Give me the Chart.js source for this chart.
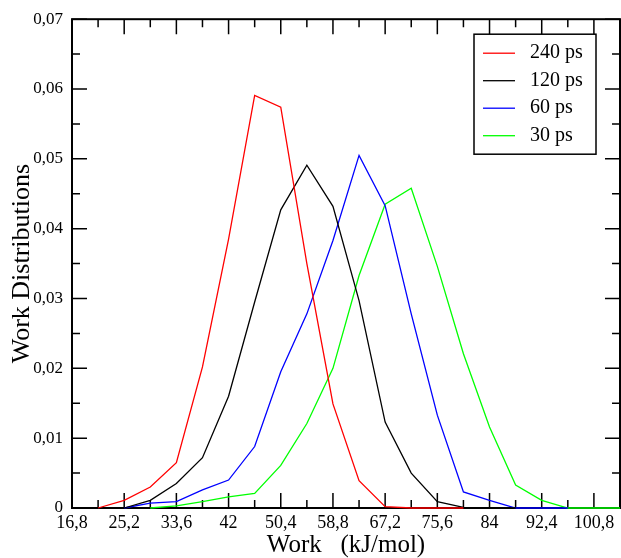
<!DOCTYPE html>
<html>
<head>
<meta charset="utf-8">
<script src="https://cdn.jsdelivr.net/npm/chart.js@4.4.1/dist/chart.umd.min.js"></script>
<style>
  html, body { margin: 0; padding: 0; background: #fff; overflow: hidden; }
  #wrap { width: 621px; height: 558px; }
</style>
</head>
<body>
<div id="wrap"><canvas id="myChart" width="621" height="558"></canvas></div>
<script>
// Work distributions, one series per pulling time
const workX = [16.8, 21, 25.2, 29.4, 33.6, 37.8, 42, 46.2, 50.4, 54.6, 58.8, 63, 67.2, 71.4, 75.6, 79.8, 84, 88.2, 92.4, 96.6, 100.8, 105];

const ps240 = [null, 0, 0.0011, 0.0030, 0.0065, 0.0202, 0.0385, 0.0591, 0.0574, 0.0350, 0.0149, 0.0039, 0.0002, 0, 0, 0, null, null, null, null, null, null];
const ps120 = [null, null, 0, 0.0011, 0.0035, 0.0072, 0.0160, 0.0295, 0.0427, 0.0491, 0.0432, 0.0297, 0.0123, 0.0050, 0.0009, 0.0001, 0, 0, null, null, null, null];
const ps60  = [null, null, 0, 0.0007, 0.0009, 0.0026, 0.0040, 0.0088, 0.0195, 0.0278, 0.0383, 0.0505, 0.0433, 0.0278, 0.0133, 0.0023, 0.0011, 0, 0, 0, null, null];
const ps30  = [null, null, null, 0, 0.0003, 0.0009, 0.0016, 0.0021, 0.0061, 0.0121, 0.0200, 0.0333, 0.0435, 0.0458, 0.0346, 0.0221, 0.0116, 0.0033, 0.0011, 0, 0, 0];

const seriesLabels = ['240 ps', '120 ps', '60 ps', '30 ps'];
const seriesColors = ['#ff0000', '#000000', '#0000ff', '#00ff00'];

const xTicks = [16.8, 25.2, 33.6, 42, 50.4, 58.8, 67.2, 75.6, 84, 92.4, 100.8];
const yTicks = [0, 0.01, 0.02, 0.03, 0.04, 0.05, 0.06, 0.07];

const serif = "'Liberation Serif', 'DejaVu Serif', serif";

function pts(arr) {
    return workX.map((x, i) => ({ x: x, y: arr[i] }));
}

function comma(v) {
    return String(Number(v.toFixed(2))).replace('.', ',');
}

// inward tick marks on all four sides + frame
const frame = {
    id: 'frame',
    beforeDatasetsDraw(chart) {
        const { ctx, chartArea: a, scales } = chart;
        const xs = scales.x, ys = scales.y;
        ctx.save();
        ctx.strokeStyle = '#000';
        ctx.lineWidth = 1.5;
        const xMaj = xTicks.map(v => xs.getPixelForValue(v));
        const xMin = [];
        for (let i = 0; i < xTicks.length; i++) {
            const m = xTicks[i] + 4.2;
            if (m <= xs.max + 1e-9) xMin.push(xs.getPixelForValue(m));
        }
        const yMaj = yTicks.map(v => ys.getPixelForValue(v));
        const yMin = [];
        for (let i = 0; i < yTicks.length - 1; i++) yMin.push(ys.getPixelForValue(yTicks[i] + 0.005));
        ctx.beginPath();
        xMaj.forEach(p => { ctx.moveTo(p, a.bottom); ctx.lineTo(p, a.bottom - 15); ctx.moveTo(p, a.top); ctx.lineTo(p, a.top + 15); });
        xMin.forEach(p => { ctx.moveTo(p, a.bottom); ctx.lineTo(p, a.bottom - 8); ctx.moveTo(p, a.top); ctx.lineTo(p, a.top + 8); });
        yMaj.forEach(p => { ctx.moveTo(a.left, p); ctx.lineTo(a.left + 15, p); ctx.moveTo(a.right, p); ctx.lineTo(a.right - 15, p); });
        yMin.forEach(p => { ctx.moveTo(a.left, p); ctx.lineTo(a.left + 8, p); ctx.moveTo(a.right, p); ctx.lineTo(a.right - 8, p); });
        ctx.stroke();
        ctx.lineWidth = 2;
        ctx.strokeRect(a.left, a.top, a.right - a.left, a.bottom - a.top);
        ctx.restore();
    }
};

// boxed legend in the upper right corner
const boxLegend = {
    id: 'boxLegend',
    afterDatasetsDraw(chart) {
        const { ctx, chartArea: a } = chart;
        const w = 122, h = 120;
        const bx = a.right - 24 - w, by = a.top + 15;
        ctx.save();
        ctx.fillStyle = '#fff';
        ctx.fillRect(bx, by, w, h);
        ctx.strokeStyle = '#000';
        ctx.lineWidth = 1.5;
        ctx.strokeRect(bx, by, w, h);
        ctx.font = '20px ' + serif;
        ctx.textBaseline = 'middle';
        chart.data.datasets.forEach((ds, i) => {
            const yy = by + 19 + i * 27.5;
            ctx.strokeStyle = ds.borderColor;
            ctx.lineWidth = 1.3;
            ctx.beginPath();
            ctx.moveTo(bx + 9, yy);
            ctx.lineTo(bx + 41, yy);
            ctx.stroke();
            ctx.fillStyle = '#000';
            ctx.fillText(ds.label, bx + 56, yy);
        });
        ctx.restore();
    }
};

const series = [ps240, ps120, ps60, ps30];

new Chart(document.getElementById('myChart'), {
    type: 'line',
    data: {
        datasets: series.map((s, i) => ({
            label: seriesLabels[i],
            data: pts(s),
            borderColor: seriesColors[i],
            backgroundColor: seriesColors[i],
            borderWidth: 1.3,
            pointRadius: 0,
            tension: 0,
            clip: false,
            spanGaps: false
        }))
    },
    options: {
        responsive: false,
        animation: false,
        layout: { padding: { top: 18, right: 1, left: 0, bottom: 0 } },
        plugins: {
            legend: { display: false },
            tooltip: { enabled: false }
        },
        scales: {
            x: {
                type: 'linear',
                min: 16.8,
                max: 105,
                afterBuildTicks: scale => { scale.ticks = xTicks.map(v => ({ value: v })); },
                afterFit: scale => { scale.height = 50; },
                grid: { display: false, drawTicks: false },
                border: { display: false },
                ticks: {
                    color: '#000',
                    padding: 4,
                    maxRotation: 0,
                    autoSkip: false,
                    font: { family: serif, size: 18 },
                    callback: v => comma(v)
                },
                title: {
                    display: true,
                    text: 'Work   (kJ/mol)',
                    color: '#000',
                    font: { family: serif, size: 25, lineHeight: 1 },
                    padding: { top: 0, bottom: 0 }
                }
            },
            y: {
                min: 0,
                max: 0.07,
                afterBuildTicks: scale => { scale.ticks = yTicks.map(v => ({ value: v })); },
                afterFit: scale => { scale.width = 72; },
                grid: { display: false, drawTicks: false },
                border: { display: false },
                ticks: {
                    color: '#000',
                    padding: 9,
                    autoSkip: false,
                    font: { family: serif, size: 17 },
                    callback: v => v === 0 ? '0' : v.toFixed(2).replace('.', ',')
                },
                title: {
                    display: true,
                    text: 'Work Distributions',
                    color: '#000',
                    font: { family: serif, size: 26, lineHeight: 1 },
                    padding: { top: 9, bottom: 0 }
                }
            }
        }
    },
    plugins: [frame, boxLegend]
});
</script>
</body>
</html>
